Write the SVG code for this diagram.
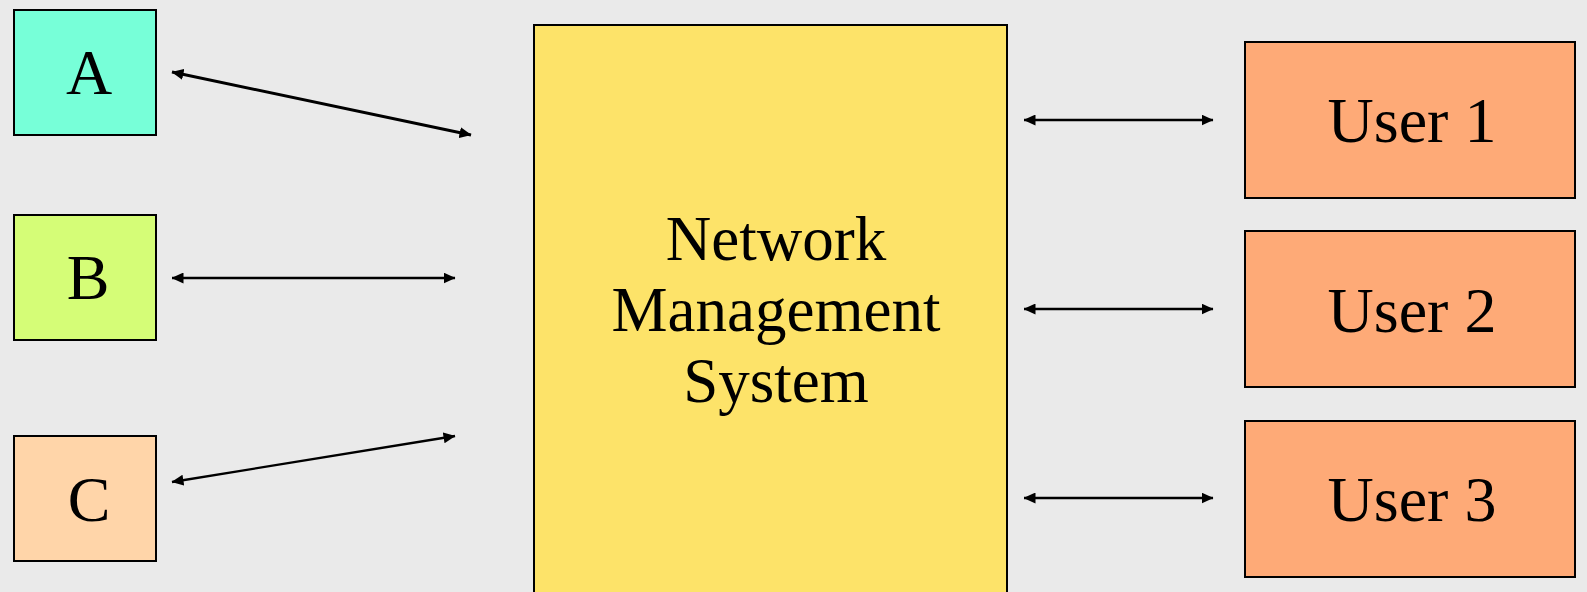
<svg xmlns="http://www.w3.org/2000/svg" width="1587" height="592" viewBox="0 0 1587 592">
<style>
.box{stroke:#000;stroke-width:2}
.lbl{font-family:"Liberation Serif","Times New Roman",serif;font-size:64px;fill:#000;text-anchor:middle}
.nms{font-family:"Liberation Serif","Times New Roman",serif;font-size:63px;fill:#000;text-anchor:middle}
.conn{stroke:#000;stroke-width:2.3;fill:none;marker-start:url(#ah);marker-end:url(#ah)}
</style>
<defs>
<marker id="ah" viewBox="0 0 12 11" refX="11.5" refY="5.5" markerWidth="12" markerHeight="11" markerUnits="userSpaceOnUse" orient="auto-start-reverse">
<path d="M0,0 L12,5.5 L0,11 Z" fill="#000"/>
</marker>
</defs>
<rect width="1587" height="592" fill="#EAEAEA"/>
<g id="node-A"><rect class="box" x="14" y="10" width="142" height="125" fill="#77FFD8"/><text class="lbl" x="89" y="94">A</text></g>
<g id="node-B"><rect class="box" x="14" y="215" width="142" height="125" fill="#D5FD77"/><text class="lbl" x="88" y="299">B</text></g>
<g id="node-C"><rect class="box" x="14" y="436" width="142" height="125" fill="#FFD5A9"/><text class="lbl" x="89" y="521">C</text></g>
<g id="node-NMS"><rect class="box" x="534" y="25" width="473" height="600" fill="#FDE369"/>
<text class="nms" x="776" y="260">Network</text>
<text class="nms" x="776" y="331">Management</text>
<text class="nms" x="776" y="402">System</text></g>
<g id="node-User1"><rect class="box" x="1245" y="42" width="330" height="156" fill="#FEAA77"/><text class="lbl" x="1412" y="142">User 1</text></g>
<g id="node-User2"><rect class="box" x="1245" y="231" width="330" height="156" fill="#FEAA77"/><text class="lbl" x="1412" y="332">User 2</text></g>
<g id="node-User3"><rect class="box" x="1245" y="421" width="330" height="156" fill="#FEAA77"/><text class="lbl" x="1412" y="521">User 3</text></g>
<g id="connectors">
<line class="conn" x1="172" y1="72" x2="471" y2="135" style="stroke-width:3"/>
<line class="conn" x1="172" y1="278" x2="455" y2="278"/>
<line class="conn" x1="172" y1="482" x2="455" y2="436"/>
<line class="conn" x1="1024" y1="120" x2="1213" y2="120"/>
<line class="conn" x1="1024" y1="309" x2="1213" y2="309"/>
<line class="conn" x1="1024" y1="498" x2="1213" y2="498"/>
</g>
</svg>
